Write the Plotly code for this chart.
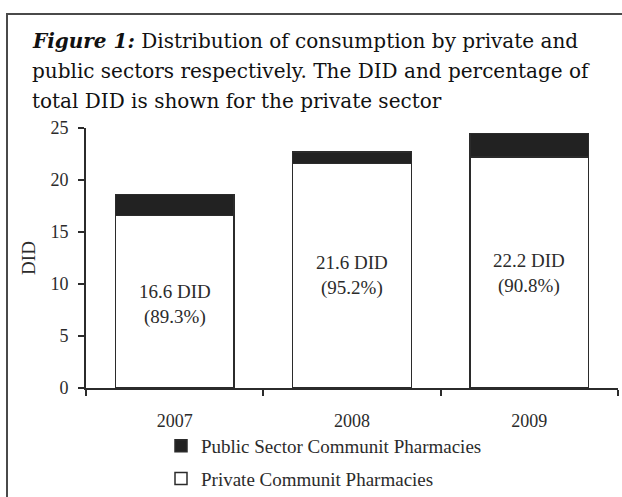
import plotly.graph_objects as go

# Consumption (DID) per year, split by sector
years = ["2007", "2008", "2009"]
private_did = [16.6, 21.6, 22.2]
public_did = [1.99, 1.09, 2.25]
private_pct = ["89.3%", "95.2%", "90.8%"]
label_y = [8.0, 10.8, 11.0]

W, H = 622, 497
L, R, T, B = 86, 4, 128, 109
PW, PH = W - L - R, H - T - B


def px_x(p):
    return (p - L) / PW


def px_y(p):
    return (H - B - p) / PH


serif = "Liberation Serif"
ink = "#2b2b2b"

fig = go.Figure()
fig.add_trace(go.Bar(
    x=years, y=private_did, name="Private Communit Pharmacies",
    legendgroup="private", legendrank=2,
    marker=dict(color="white", line=dict(color=ink, width=1.5)),
))
fig.add_trace(go.Bar(
    x=years, y=public_did, name="Public Sector Communit Pharmacies",
    legendgroup="public", legendrank=1,
    marker=dict(color="#222222", line=dict(color=ink, width=1.5)),
))

annotations = []
for i, (v, pct, ly) in enumerate(zip(private_did, private_pct, label_y)):
    annotations.append(dict(
        x=i, y=ly, xref="x", yref="y",
        text=f"{v:.1f} DID<br>({pct})", showarrow=False,
        font=dict(family=serif, size=19, color=ink),
        align="center", xanchor="center", yanchor="middle",
    ))

title_lines = [
    "<b><i>Figure 1:</i></b> Distribution of consumption by private and",
    "public sectors respectively. The DID and percentage of",
    "total DID is shown for the private sector",
]
for k, line in enumerate(title_lines):
    annotations.append(dict(
        x=px_x(30), y=px_y(41 + 30 * k), xref="paper", yref="paper",
        xanchor="left", yanchor="middle", align="left", showarrow=False,
        text=line,
        font=dict(family="DejaVu Serif", size=20, color="#111111"),
    ))

border = "#4a4a4a"
shapes = [
    dict(type="line", xref="paper", yref="paper", x0=px_x(7), x1=px_x(7),
         y0=px_y(14), y1=px_y(510), line=dict(color=border, width=2)),
    dict(type="line", xref="paper", yref="paper", x0=px_x(6), x1=px_x(630),
         y0=px_y(14), y1=px_y(14), line=dict(color=border, width=2)),
]

fig.update_layout(
    width=W, height=H,
    margin=dict(l=L, r=R, t=T, b=B, autoexpand=False),
    paper_bgcolor="white", plot_bgcolor="white",
    barmode="stack", bargap=0.33,
    font=dict(family=serif, size=18, color=ink),
    showlegend=True,
    legend=dict(
        x=px_x(161), y=px_y(427), xanchor="left", yanchor="top",
        traceorder="grouped", tracegroupgap=5,
        font=dict(family=serif, size=19, color=ink),
        bgcolor="rgba(0,0,0,0)", itemwidth=30,
    ),
    annotations=annotations,
    shapes=shapes,
)
fig.update_xaxes(
    type="category", range=[-0.5, 2.5], showline=True, linecolor=ink, linewidth=2,
    ticks="outside", ticklen=6, tickwidth=2, tickcolor=ink,
    tickson="boundaries", ticklabelstandoff=15,
    showgrid=False, zeroline=False,
    tickfont=dict(family=serif, size=18, color=ink),
)
fig.update_yaxes(
    range=[0, 25], dtick=5, showline=True, linecolor=ink, linewidth=2,
    ticks="outside", ticklen=6, tickwidth=2, tickcolor=ink,
    ticklabelstandoff=6, showgrid=False, zeroline=False,
    tickfont=dict(family=serif, size=18, color=ink),
    title=dict(text="DID", font=dict(family=serif, size=19, color=ink), standoff=10),
)

fig.write_html("out.html")
